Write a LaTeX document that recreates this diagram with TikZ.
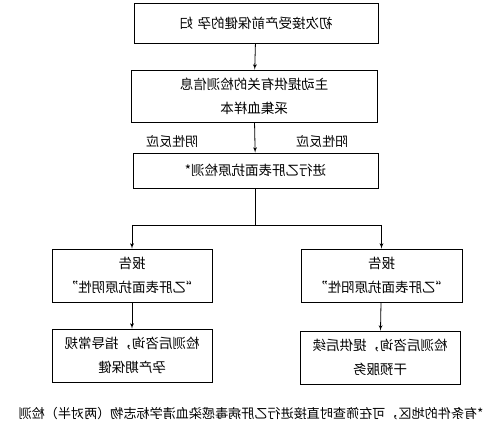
\documentclass[tikz,border=0pt]{standalone}
\usepackage{fontspec}
\setmainfont{Noto Sans CJK SC}
\usetikzlibrary{shapes,arrows,positioning}
\tikzstyle{wide} = [rectangle, draw, line width=0.8pt, xscale=-1,
    minimum width=245pt, text width=240pt, text centered, inner sep=0pt,
    font=\fontsize{13.5}{24}\selectfont]
\tikzstyle{narrow} = [rectangle, draw, line width=0.8pt, xscale=-1,
    minimum width=160pt, text width=156pt, text centered, inner sep=0pt,
    minimum height=53pt, font=\fontsize{13.5}{24}\selectfont]
\tikzstyle{lbl} = [xscale=-1, inner sep=0pt, font=\fontsize{13}{15}\selectfont]
\tikzstyle{line} = [draw, line width=0.8pt, -latex']

\begin{document}
\begin{tikzpicture}[x=1pt, y=-1pt]
 \useasboundingbox (0,0) rectangle (504,430);
 \node at (256,23) [wide, minimum width=244pt, minimum height=40pt, name=first] {初次接受产前保健的孕 妇};
 \node at (254,96) [wide, minimum width=246pt, minimum height=52pt, name=inform] {主动提供有关的检测信息\\采集血样本};
 \node at (255.5,170.5) [wide, minimum height=35pt, name=test] {进行乙肝表面抗原检测*};
 \node at (172,142) [lbl, name=neglbl] {阴性反应};
 \node at (322,142) [lbl, name=poslbl] {阳性反应};
 \node at (132,275.5) [narrow, name=negrep] {报告\\“乙肝表面抗原阴性”};
 \node at (381.5,275.5) [narrow, minimum width=161pt, name=posrep] {报告\\“乙肝表面抗原阳性”};
 \node [narrow, below of=negrep, node distance=80pt] (negcare) {检测后咨询，指导常规\\孕产期保健};
 \node [narrow, below of=posrep, node distance=82pt, xshift=1.5pt] (poscare) {检测后咨询，提供后续\\干预服务};
 \node at (251,414) [lbl, font=\fontsize{13.1}{15}\selectfont, name=note] {*有条件的地区，可在筛查时直接进行乙肝病毒感染血清学标志物（两对半）检测};
 \coordinate (split) at (test.south |- 0,225);
 \coordinate (lsplit) at (negrep.north |- split);
 \coordinate (rsplit) at (posrep.north |- split);
    \path [line] (first) -- (inform);
    \path [line] (inform) -- (test);
    \draw [line width=0.8pt] (test.south) -- (split);
    \draw [line width=0.8pt] (lsplit) -- (rsplit);
    \path [line] (lsplit) -- (negrep);
    \path [line] (rsplit) -- (posrep);
    \path [line] (negrep) -- (negcare);
    \path [line] (posrep) -- (poscare);
\end{tikzpicture}
\end{document}
